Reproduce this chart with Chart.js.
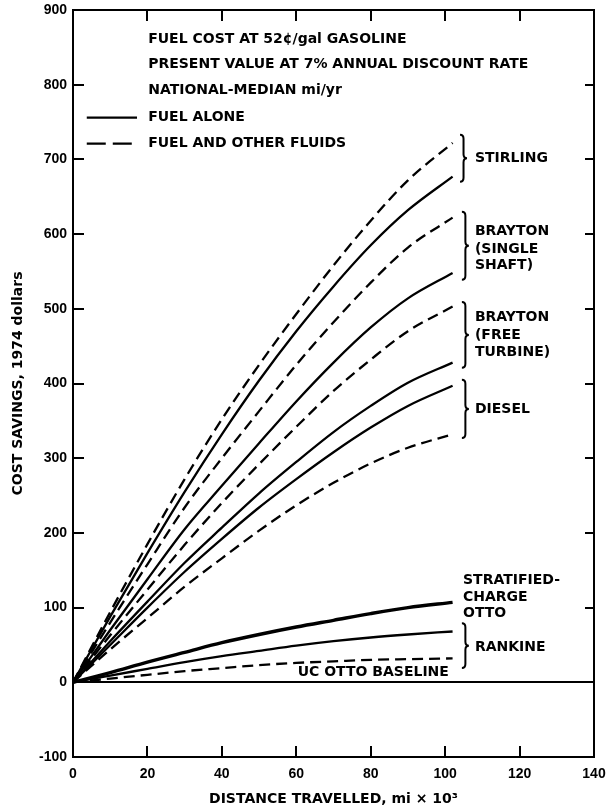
<!DOCTYPE html>
<html>
<head>
<meta charset="utf-8">
<script src="https://cdn.jsdelivr.net/npm/chart.js@4"></script>
<style>
  html, body { margin: 0; padding: 0; background: #fff; }
  #chart { display: block; }
</style>
</head>
<body>
<canvas id="chart" width="606" height="811"></canvas>
<script>
// distance travelled, thousands of miles
const distance = [0, 10, 20, 30, 40, 50, 60, 70, 80, 90, 102];

// cost savings, 1974 dollars
const stirlingFluids      = [0, 94, 185, 272, 352, 425, 493, 558, 618, 672, 722];
const stirlingFuel        = [0, 88, 173, 255, 332, 404, 470, 530, 585, 632, 677];
const braytonSingleFluids = [0, 80, 158, 234, 300, 363, 425, 482, 535, 582, 622];
const braytonSingleFuel   = [0, 70, 138, 205, 263, 320, 376, 428, 475, 514, 548];
const braytonFreeFluids   = [0, 63, 124, 184, 240, 292, 342, 390, 432, 470, 503];
const braytonFreeFuel     = [0, 55, 108, 160, 207, 253, 295, 335, 370, 401, 428];
const dieselFuel          = [0, 50, 100, 148, 192, 234, 272, 308, 341, 370, 397];
const dieselFluids        = [0, 44, 86, 128, 166, 203, 237, 267, 293, 314, 332];
const stratifiedFuel      = [0, 13, 27, 40, 53, 64, 74, 83, 92, 100, 107];
const rankineFuel         = [0, 9, 18, 27, 35, 42, 49, 55, 60, 64, 68];
const rankineFluids       = [0, 5, 10, 15, 19, 23, 26, 28, 30, 31, 32];

const xTicks = [0, 20, 40, 60, 80, 100, 120, 140];
const yTicks = [-100, 0, 100, 200, 300, 400, 500, 600, 700, 800, 900];

const headerLines = [
  "FUEL COST AT 52\u00a2/gal GASOLINE",
  "PRESENT VALUE AT 7% ANNUAL DISCOUNT RATE",
  "NATIONAL-MEDIAN mi/yr"
];
const legendLabels = ["FUEL ALONE", "FUEL AND OTHER FLUIDS"];

const FONT = "'DejaVu Sans', sans-serif";
const TICK_FONT = "'Liberation Sans', Arial, sans-serif";
const DASH = [11, 6];

function series(values, dashed, width) {
  return {
    data: values.map((v, i) => ({ x: distance[i], y: v })),
    borderColor: "#000",
    borderWidth: width || 2.3,
    borderDash: dashed ? DASH : [],
    pointRadius: 0,
    fill: false,
    cubicInterpolationMode: "monotone"
  };
}

// text and braces, in data units
const notes = [
  { x: 20.2, y: 861, text: headerLines[0] },
  { x: 20.2, y: 827, text: headerLines[1] },
  { x: 20.2, y: 792, text: headerLines[2] },
  { x: 20.2, y: 756, text: legendLabels[0] },
  { x: 20.2, y: 721, text: legendLabels[1] },
  { x: 108, y: 702, text: "STIRLING" },
  { x: 108, y: 603, text: "BRAYTON" },
  { x: 108, y: 580, text: "(SINGLE" },
  { x: 108, y: 558, text: "SHAFT)" },
  { x: 108, y: 489, text: "BRAYTON" },
  { x: 108, y: 465, text: "(FREE" },
  { x: 108, y: 442, text: "TURBINE)" },
  { x: 108, y: 365, text: "DIESEL" },
  { x: 104.8, y: 137, text: "STRATIFIED-" },
  { x: 104.8, y: 114, text: "CHARGE" },
  { x: 104.8, y: 92, text: "OTTO" },
  { x: 108, y: 47, text: "RANKINE" },
  { x: 101, y: 13, text: "UC OTTO BASELINE", align: "right" }
];
const braces = [
  { x: 104.0, top: 733, bottom: 670 },
  { x: 104.5, top: 630, bottom: 539 },
  { x: 104.5, top: 509, bottom: 421 },
  { x: 104.5, top: 405, bottom: 327 },
  { x: 104.5, top: 79, bottom: 19 }
];
const legendSamples = [
  { x0: 3.7, x1: 17.2, y: 756, dash: [] },
  { x0: 3.7, x1: 17.2, y: 721, dash: [19, 7] }
];

const decor = {
  id: "decor",
  afterDraw(chart) {
    const { ctx, chartArea: a, scales: { x, y } } = chart;
    ctx.save();
    ctx.strokeStyle = "#000";
    ctx.fillStyle = "#000";

    // frame
    ctx.lineWidth = 2;
    ctx.strokeRect(a.left, a.top, a.right - a.left, a.bottom - a.top);

    // inward ticks
    ctx.beginPath();
    yTicks.forEach(v => {
      const py = Math.round(y.getPixelForValue(v));
      ctx.moveTo(a.left, py); ctx.lineTo(a.left + 11, py);
      ctx.moveTo(a.right, py); ctx.lineTo(a.right - 9, py);
    });
    xTicks.slice(1, -1).forEach(v => {
      const px = Math.round(x.getPixelForValue(v));
      ctx.moveTo(px, a.top); ctx.lineTo(px, a.top + 11);
      ctx.moveTo(px, a.bottom); ctx.lineTo(px, a.bottom - 11);
    });
    ctx.stroke();

    // legend samples
    ctx.lineWidth = 2.3;
    legendSamples.forEach(s => {
      ctx.setLineDash(s.dash);
      ctx.beginPath();
      ctx.moveTo(x.getPixelForValue(s.x0), y.getPixelForValue(s.y));
      ctx.lineTo(x.getPixelForValue(s.x1), y.getPixelForValue(s.y));
      ctx.stroke();
    });
    ctx.setLineDash([]);

    // braces
    ctx.lineWidth = 2;
    braces.forEach(b => {
      const bx = x.getPixelForValue(b.x);
      const t = y.getPixelForValue(b.top);
      const bt = y.getPixelForValue(b.bottom);
      const m = (t + bt) / 2;
      const w = 7, r = 4;
      ctx.beginPath();
      ctx.moveTo(bx, t);
      ctx.quadraticCurveTo(bx + w / 2, t, bx + w / 2, t + r);
      ctx.lineTo(bx + w / 2, m - r);
      ctx.quadraticCurveTo(bx + w / 2, m, bx + w, m);
      ctx.quadraticCurveTo(bx + w / 2, m, bx + w / 2, m + r);
      ctx.lineTo(bx + w / 2, bt - r);
      ctx.quadraticCurveTo(bx + w / 2, bt, bx, bt);
      ctx.stroke();
    });

    // text
    ctx.font = "bold 14px " + FONT;
    ctx.textBaseline = "middle";
    notes.forEach(n => {
      ctx.textAlign = n.align || "left";
      ctx.fillText(n.text, x.getPixelForValue(n.x), y.getPixelForValue(n.y));
    });
    ctx.restore();
  }
};

new Chart(document.getElementById("chart"), {
  type: "line",
  data: {
    datasets: [
      series(stirlingFluids, true),
      series(stirlingFuel, false),
      series(braytonSingleFluids, true),
      series(braytonSingleFuel, false),
      series(braytonFreeFluids, true),
      series(braytonFreeFuel, false),
      series(dieselFuel, false),
      series(dieselFluids, true),
      series(stratifiedFuel, false, 3.4),
      series(rankineFuel, false),
      series(rankineFluids, true)
    ]
  },
  options: {
    responsive: false,
    animation: false,
    layout: { padding: { top: 10, right: 12, left: 0, bottom: 0 } },
    plugins: { legend: { display: false }, tooltip: { enabled: false } },
    scales: {
      x: {
        type: "linear",
        min: 0,
        max: 140,
        afterBuildTicks: s => { s.ticks = xTicks.map(v => ({ value: v })); },
        ticks: { color: "#000", font: { family: TICK_FONT, size: 14, weight: "bold" }, padding: 9, maxRotation: 0 },
        grid: { display: false, drawTicks: false },
        border: { display: false },
        title: {
          display: true,
          text: "DISTANCE TRAVELLED, mi \u00d7 10\u00b3",
          color: "#000",
          font: { family: FONT, size: 14, weight: "bold" },
          padding: { top: 0, bottom: 3 }
        },
        afterFit: s => { s.height = 54; s.paddingLeft = 0; s.paddingRight = 0; }
      },
      y: {
        min: -100,
        max: 900,
        afterBuildTicks: s => { s.ticks = yTicks.map(v => ({ value: v })); },
        ticks: { color: "#000", font: { family: TICK_FONT, size: 14, weight: "bold" }, padding: 6 },
        grid: {
          drawTicks: false,
          lineWidth: 2,
          color: c => (c.tick && c.tick.value === 0 ? "#000" : "rgba(0,0,0,0)")
        },
        border: { display: false },
        title: {
          display: true,
          text: "COST SAVINGS, 1974 dollars",
          color: "#000",
          font: { family: FONT, size: 14, weight: "bold" },
          padding: { top: 10, bottom: 0 }
        },
        afterFit: s => { s.width = 73; s.paddingTop = 0; s.paddingBottom = 0; }
      }
    }
  },
  plugins: [decor]
});
</script>
</body>
</html>
